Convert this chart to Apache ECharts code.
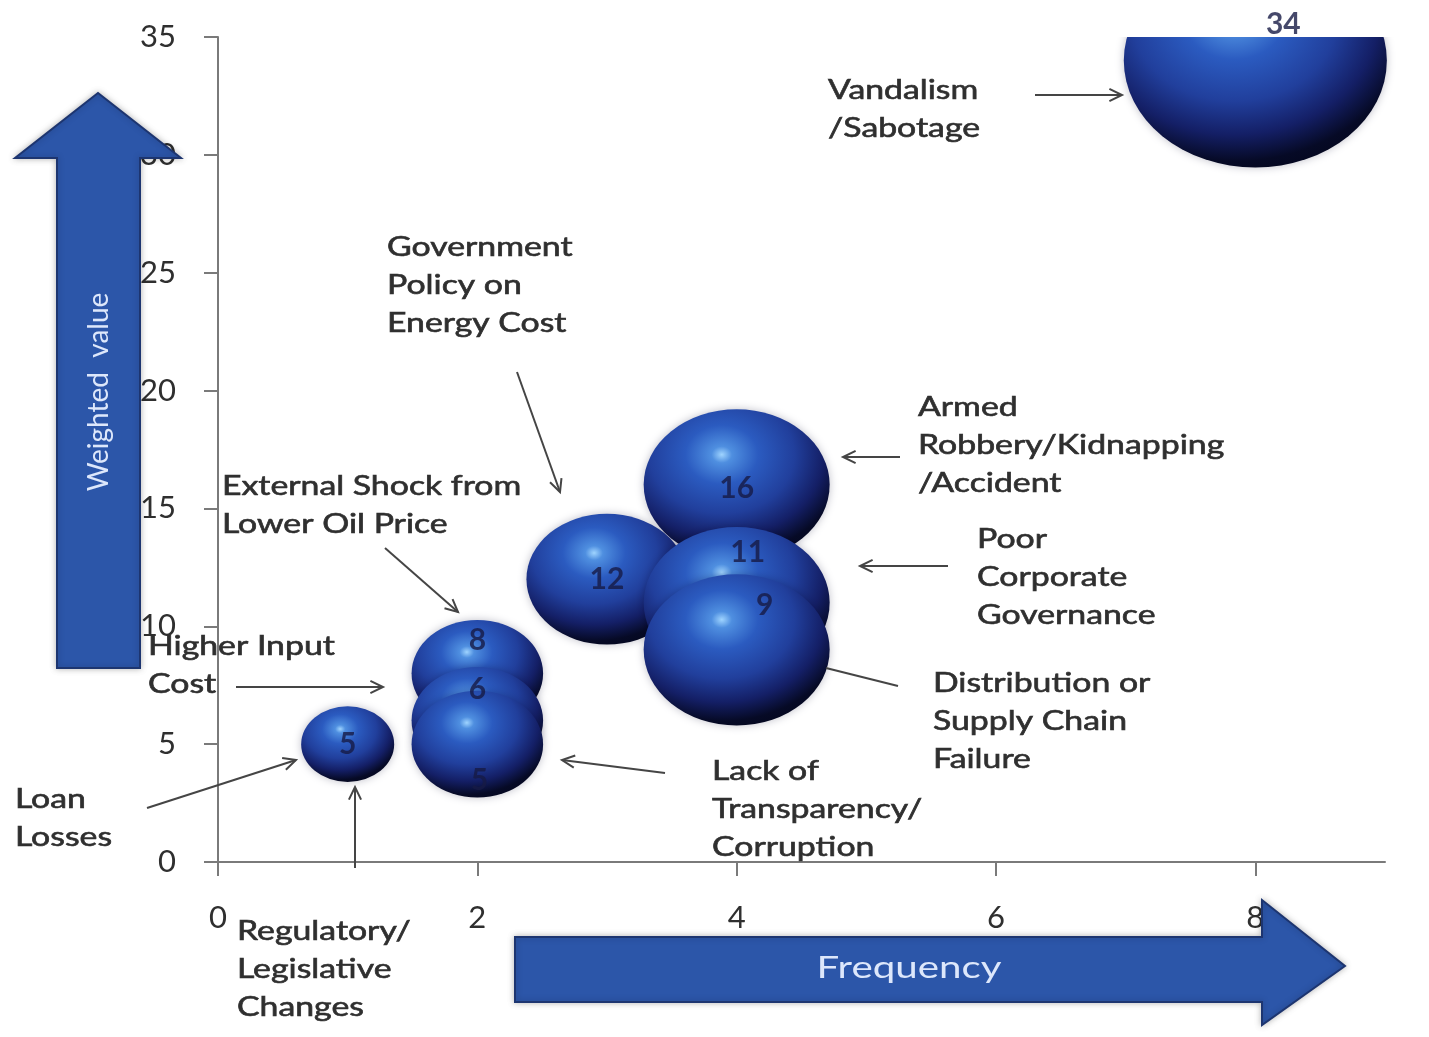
<!DOCTYPE html>
<html>
<head>
<meta charset="utf-8">
<script src="https://cdn.jsdelivr.net/npm/echarts@6/dist/echarts.min.js"></script>
<style>
  html, body { margin: 0; padding: 0; background: #fff; }
  #chart { width: 1429px; height: 1037px; }
</style>
</head>
<body>
<div id="chart"></div>
<script>
/* 风险气泡图：频率 (x, 同时决定气泡大小) vs 加权值 (y) */

// 数据（绘制顺序即叠放顺序）
const frequency     = [8, 4, 3, 4, 4, 2, 2, 2, 1];
const weightedValue = [34, 16, 12, 11, 9, 8, 6, 5, 5];
const xTickValues = [0, 2, 4, 6, 8];
const yTickValues = [0, 5, 10, 15, 20, 25, 30, 35];

// 注释文字
const riskNotes = [
  'Vandalism\n/Sabotage',
  'Government\nPolicy on\nEnergy Cost',
  'Armed\nRobbery/Kidnapping\n/Accident',
  'Poor\nCorporate\nGovernance',
  'Distribution or\nSupply Chain\nFailure',
  'Lack of\nTransparency/\nCorruption',
  'External Shock from\nLower Oil Price',
  'Higher Input\nCost',
  'Loan\nLosses',
  'Regulatory/\nLegislative\nChanges'
];
const xAxisTitle = 'Frequency';
const yAxisTitle = 'Weighted  value';

// 布局：数值标签偏移、注释位置与指示箭头
const labelShift = [[28, -36], [0, 3], [0, 0], [11, -50], [28, -45], [0, -33], [0, -31], [2, 36], [0, 0]];
const noteLayout = [
  { x: 828, y: 72,  arrow: [1035, 95, 1122, 95], head: true },
  { x: 387, y: 229, arrow: [517, 372, 560, 492], head: true },
  { x: 918, y: 389, arrow: [900, 457, 843, 457], head: true },
  { x: 977, y: 521, arrow: [948, 566, 860, 566], head: true },
  { x: 933, y: 665, arrow: [898, 686, 826, 668], head: false },
  { x: 712, y: 753, arrow: [665, 773, 562, 760], head: true },
  { x: 222, y: 468, arrow: [385, 548, 458, 612], head: true },
  { x: 148, y: 628, arrow: [236, 687, 383, 687], head: true },
  { x: 15,  y: 781, arrow: [147, 808, 296, 760], head: true },
  { x: 237, y: 913, arrow: [355, 868, 355, 787], head: true }
];

const FONT = 'Lato, "Open Sans", sans-serif';
const TEXT_COLOR = '#2f2f2f';
const ARROW_BLUE = '#2c56a9';

// 椭圆气泡（原图横向拉伸）
const ELLIPSE = 'path://M0,50 A50,50 0 1,1 100,50 A50,50 0 1,1 0,50 Z';
const bubbleColor = new echarts.graphic.RadialGradient(0.42, 0.3, 0.78, [
  { offset: 0, color: '#9fd4ff' },
  { offset: 0.07, color: '#4f8fe0' },
  { offset: 0.25, color: '#2b5bc0' },
  { offset: 0.5, color: '#213f9c' },
  { offset: 0.7, color: '#141f66' },
  { offset: 0.86, color: '#060a26' },
  { offset: 1, color: '#03051a' }
]);

const bubbleData = frequency.map((f, i) => [f, weightedValue[i]]);
const labelData = bubbleData.map((v, i) => ({
  value: v,
  label: { offset: labelShift[i] }
}));

// 指示箭头
function pointerEls(n) {
  const [x1, y1, x2, y2] = n.arrow;
  const els = [{
    type: 'line', z: 30,
    shape: { x1, y1, x2, y2 },
    style: { stroke: '#454545', lineWidth: 2 }
  }];
  if (n.head) {
    const ang = Math.atan2(y2 - y1, x2 - x1);
    const L = 14, w = 0.45;
    els.push({
      type: 'polyline', z: 30,
      shape: {
        points: [
          [x2 - L * Math.cos(ang - w), y2 - L * Math.sin(ang - w)],
          [x2, y2],
          [x2 - L * Math.cos(ang + w), y2 - L * Math.sin(ang + w)]
        ]
      },
      style: { stroke: '#454545', lineWidth: 2, fill: null }
    });
  }
  return els;
}

const graphics = [];

// 顶部遮挡：把 34 气泡在绘图区上沿截断
graphics.push({
  type: 'rect', z: 10,
  shape: { x: 1040, y: 0, width: 389, height: 37 },
  style: { fill: '#fff' }
});

// 左侧竖向大箭头
graphics.push({
  type: 'polygon', z: 40,
  shape: { points: [[57, 668], [57, 158], [15, 158], [98, 93], [181, 158], [140, 158], [140, 668]] },
  style: { fill: ARROW_BLUE, stroke: '#1d3570', lineWidth: 2, shadowBlur: 6, shadowColor: 'rgba(0,0,0,0.25)' }
});
graphics.push({
  type: 'text', z: 41, x: 99, y: 392, rotation: Math.PI / 2,
  style: { text: yAxisTitle, font: '28px ' + FONT, fill: '#dde7fb', align: 'center', verticalAlign: 'middle' }
});

// 底部横向大箭头
graphics.push({
  type: 'polygon', z: 40,
  shape: { points: [[515, 937], [1262, 937], [1262, 900], [1345, 966], [1262, 1025], [1262, 1002], [515, 1002]] },
  style: { fill: ARROW_BLUE, stroke: '#1d3570', lineWidth: 2, shadowBlur: 6, shadowColor: 'rgba(0,0,0,0.25)' }
});
graphics.push({
  type: 'text', z: 41, x: 909, y: 968, scaleX: 1.3,
  style: { text: xAxisTitle, font: '31px ' + FONT, fill: '#dde7fb', align: 'center', verticalAlign: 'middle' }
});

// 注释文字
riskNotes.forEach((t, i) => {
  const n = noteLayout[i];
  graphics.push({
    type: 'text', z: 30, x: n.x, y: n.y, scaleX: 1.3,
    style: {
      text: t, font: '26px ' + FONT, fill: TEXT_COLOR, lineHeight: 38,
      align: 'left', verticalAlign: 'top',
      stroke: TEXT_COLOR, lineWidth: 0.6
    }
  });
  pointerEls(n).forEach(e => graphics.push(e));
});

const chart = echarts.init(document.getElementById('chart'));
chart.setOption({
  animation: false,
  backgroundColor: '#fff',
  grid: { left: 218, right: 44, top: 37, bottom: 175 },
  xAxis: {
    type: 'value', min: 0, max: 9, interval: 2,
    axisLine: { show: true, lineStyle: { color: '#7a7a7a', width: 2 } },
    axisTick: { show: true, length: 14, lineStyle: { color: '#7a7a7a', width: 2 } },
    splitLine: { show: false },
    axisLabel: {
      color: '#2f2f2f', fontSize: 31, fontFamily: FONT, margin: 40, showMaxLabel: false,
      formatter: v => (xTickValues.includes(v) ? String(v) : '')
    }
  },
  yAxis: {
    type: 'value', min: 0, max: 35, interval: 5,
    axisLine: { show: true, lineStyle: { color: '#7a7a7a', width: 2 } },
    axisTick: { show: true, length: 14, lineStyle: { color: '#7a7a7a', width: 2 } },
    splitLine: { show: false },
    axisLabel: {
      color: '#2f2f2f', fontSize: 31, fontFamily: FONT, margin: 42,
      formatter: v => (yTickValues.includes(v) ? String(v) : '')
    }
  },
  series: [
    {
      name: 'bubbles',
      type: 'scatter',
      z: 2,
      clip: false,
      symbol: ELLIPSE,
      symbolSize: v => {
        const w = 93 * Math.sqrt(v[0]);
        return [w, w / 1.23];
      },
      itemStyle: {
        color: bubbleColor,
        opacity: 1,
        shadowBlur: 8,
        shadowColor: 'rgba(0, 0, 40, 0.25)'
      },
      data: bubbleData
    },
    {
      name: 'values',
      type: 'scatter',
      z: 20,
      clip: false,
      silent: true,
      symbolSize: 1,
      itemStyle: { color: 'rgba(0,0,0,0)' },
      label: {
        show: true,
        position: 'inside',
        formatter: p => String(p.value[1]),
        color: '#161a45',
        fontSize: 30,
        fontWeight: 'bold',
        fontFamily: FONT
      },
      data: labelData
    }
  ],
  graphic: { elements: graphics }
});
</script>
</body>
</html>
